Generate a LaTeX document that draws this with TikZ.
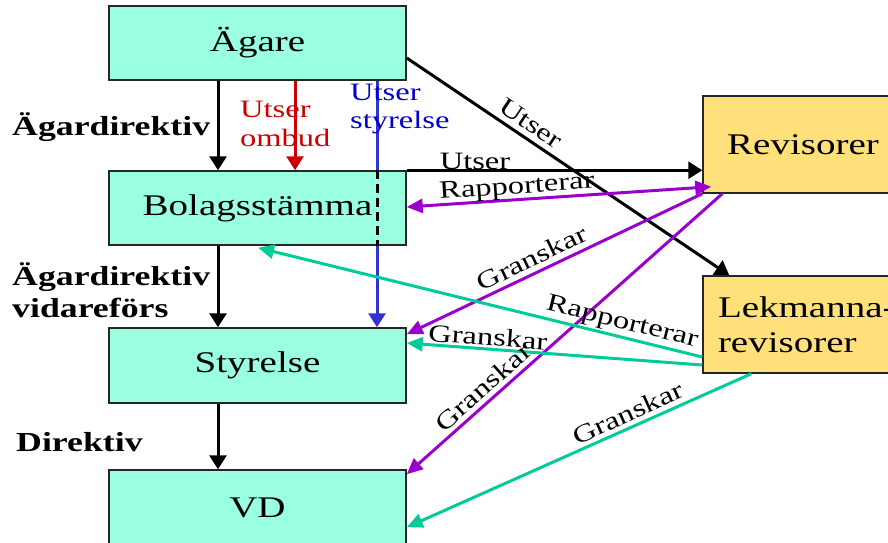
\documentclass[tikz,border=0pt]{standalone}
\usepackage{fontspec}
\setmainfont{Liberation Serif}[FakeStretch=1.3]
\usetikzlibrary{arrows.meta,calc,backgrounds}
\definecolor{boxteal}{HTML}{99FFE0}
\definecolor{boxyel}{HTML}{FFE07A}
\definecolor{lpurple}{HTML}{9900CC}
\definecolor{lteal}{HTML}{00CC99}
\definecolor{lred}{HTML}{CC0000}
\definecolor{lblue}{HTML}{3333CC}
\definecolor{tblue}{HTML}{0000CC}
\begin{document}
\begin{tikzpicture}[x=1pt,y=-1pt,
 tbox/.style={draw=black!85, line width=1.5pt, fill=boxteal, minimum width=297pt, minimum height=74pt, inner sep=0pt, font=\fontsize{30}{36}\selectfont},
 ybox/.style={draw=black!85, line width=1.5pt, fill=boxyel, inner sep=0pt, font=\fontsize{30}{35}\selectfont},
 blk/.style={line width=3pt, -{Triangle[length=14pt,width=17pt]}},
 col/.style={line width=3pt, -{Triangle[length=16pt,width=14pt]}},
 lbl/.style={font=\fontsize{25}{29}\selectfont, inner sep=0pt},
 bl/.style={font=\fontsize{27.5}{32}\selectfont\bfseries, inner sep=0pt, align=left},
]
\useasboundingbox (0,0) rectangle (888,542);
\clip (0,0) rectangle (888,542);

\node[tbox] (ag) at (257.5,43) {Ägare};
\node[tbox] (bol) at (257.5,208) {Bolagsstämma};
\node[tbox, minimum height=75pt] (sty) at (257.5,365.5) {Styrelse};
\node[tbox, minimum height=75pt] (vd) at (257.5,507.5) {VD};
\node[ybox, minimum width=200pt, minimum height=97pt] (rev) at (803,144.5) {Revisorer};
\node[ybox, minimum width=200pt, minimum height=97pt, text width=170pt, inner xsep=15pt, align=left] (lek) at (803,324.5) {\mbox{Lekmanna-}\\revisorer};

\coordinate (c1) at (218,0);
\coordinate (c2) at (295,0);
\coordinate (c3) at (377,0);

\begin{scope}[on background layer]
\draw[blk, lblue] (ag.south -| c3) -- (sty.north -| c3);
\end{scope}
\draw[line width=3pt, dash pattern=on 9pt off 5pt] (bol.north -| c3) -- (bol.south -| c3);

\draw[blk] (ag.south -| c1) -- (bol.north -| c1);
\draw[blk] (bol.south -| c1) -- (sty.north -| c1);
\draw[blk] (sty.south -| c1) -- (vd.north -| c1);
\draw[blk, lred] (ag.south -| c2) -- (bol.north -| c2);

\draw[blk] ($(ag.east)+(0,15)$) -- ($(lek.north west)+(27,0)$);
\draw[blk] (bol.north east) -- (rev.west |- bol.north east);

\draw[col, lpurple, {Triangle[length=16pt,width=14pt]}-{Triangle[length=16pt,width=14pt]}] ($(bol.east)+(0,-1)$) -- ($(rev.south west)+(9,-7)$);
\draw[col, lpurple] (rev.south west) -- ($(sty.north east)+(0,7)$);
\draw[col, lpurple] ($(rev.south west)+(20,0)$) -- ($(vd.north east)+(0,5)$);

\draw[col, lteal] ($(lek.west)+(0,32.5)$) -- ($(bol.south)+(0.5,2)$);
\draw[col, lteal] ($(lek.west)+(0,40.5)$) -- ($(sty.east)+(0,-22.5)$);
\draw[col, lteal] ($(lek.south west)+(49,0)$) -- ($(vd.north east)+(0,58)$);

\node[lbl, rotate=-33.8] (l1) at (531,123) {Utser};
\node[lbl] (l2) at (475,161) {Utser};
\node[lbl, rotate=3.9] (l3) at (517,188) {Rapporterar};
\node[lbl, rotate=25.6] (l4) at (532,258) {Granskar};
\node[lbl, rotate=41.7] (l5) at (483,387) {Granskar};
\node[lbl, rotate=-13.9] (l6) at (622,323) {Rapporterar};
\node[lbl, rotate=-4.2] (l7) at (488,337) {Granskar};
\node[lbl, rotate=24.1] (l8) at (628,413) {Granskar};

\node[lbl, lred, align=left, anchor=base west] (t1) at (240,146) {Utser\\ombud};
\node[lbl, tblue, align=left, anchor=base west, font=\fontsize{25}{28}\selectfont] (t2) at (350,128) {Utser\\styrelse};
\node[bl, anchor=base west] (b1) at (12,135) {Ägardirektiv};
\node[bl, anchor=base west] (b2) at (12,317) {Ägardirektiv\\vidareförs};
\node[bl, anchor=base west] (b3) at (16,451) {Direktiv};
\end{tikzpicture}
\end{document}
